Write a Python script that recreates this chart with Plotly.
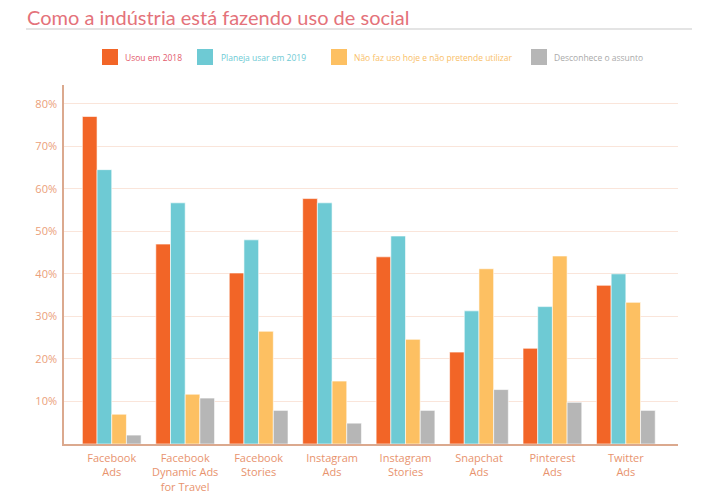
import plotly.graph_objects as go

categories = ["Facebook<br>Ads", "Facebook<br>Dynamic Ads<br>for Travel", "Facebook<br>Stories",
              "Instagram<br>Ads", "Instagram<br>Stories", "Snapchat<br>Ads", "Pinterest<br>Ads", "Twitter<br>Ads"]
series_names = ["Usou em 2018", "Planeja usar em 2019",
                "Não faz uso hoje e não pretende utilizar", "Desconhece o assunto"]
usou_2018 = [77, 47, 40.2, 57.7, 44, 21.6, 22.5, 37.3]
planeja_2019 = [64.5, 56.7, 48, 56.7, 48.9, 31.3, 32.3, 40]
nao_faz = [7, 11.7, 26.5, 14.8, 24.6, 41.2, 44.2, 33.3]
desconhece = [2.1, 10.8, 7.9, 4.9, 7.9, 12.8, 9.8, 7.9]
y_ticks = [10, 20, 30, 40, 50, 60, 70, 80]
y_tick_labels = ["10%", "20%", "30%", "40%", "50%", "60%", "70%", "80%"]

colors = ["#f26527", "#6ecad4", "#fdc062", "#b6b6b6"]
text_colors = ["#e35a6c", "#6ecad4", "#f9c068", "#aaaaaa"]

W, H = 720, 493
L, R, T, B = 64, 42, 85, 49

fig = go.Figure()
for name, vals, c in zip(series_names, [usou_2018, planeja_2019, nao_faz, desconhece], colors):
    fig.add_trace(go.Bar(x=list(range(len(categories))), y=vals, name=name,
                         marker=dict(color=c, line=dict(color="white", width=0.6)),
                         showlegend=False))

fig.update_layout(
    width=W, height=H,
    margin=dict(l=L, r=R, t=T, b=B),
    plot_bgcolor="white", paper_bgcolor="white",
    barmode="group", bargap=0.2, bargroupgap=0,
    font=dict(family="Open Sans", color="#e8936e"),
    xaxis=dict(tickmode="array", tickvals=list(range(len(categories))), ticktext=categories,
               range=[-0.65, 7.71], showgrid=False, showline=True, linecolor="#dba98e",
               linewidth=1.5, ticks="", automargin=False, ticklabelstandoff=3,
               tickfont=dict(size=11, color="#e8936e")),
    yaxis=dict(range=[0, 84.4], tickvals=y_ticks, ticktext=y_tick_labels,
               showgrid=True, gridcolor="#fae5da", gridwidth=1, zeroline=False,
               showline=True, linecolor="#dba98e", linewidth=1.5, ticks="", automargin=False,
               ticklabelstandoff=3, tickfont=dict(size=11, color="#eba07a")),
)

# Title and underline
fig.add_annotation(xref="paper", yref="paper", x=(25 - L) / (W - L - R), y=1 + (T - 17) / (H - T - B),
                   text="Como a indústria está fazendo uso de social", showarrow=False,
                   xanchor="left", yanchor="middle",
                   font=dict(family="Lato", size=20, color="#e4727a"))
fig.add_shape(type="line", xref="paper", yref="paper",
              x0=(26 - L) / (W - L - R), x1=(692 - L) / (W - L - R),
              y0=1 + (T - 29) / (H - T - B), y1=1 + (T - 29) / (H - T - B),
              line=dict(color="#c9c9c9", width=1))

# Manual legend
sq_x = [102, 197, 331, 531]
txt_x = [123, 219, 352, 552]
for i in range(4):
    x0 = (sq_x[i] - L) / (W - L - R)
    x1 = (sq_x[i] + 16 - L) / (W - L - R)
    y0 = 1 + (T - 65) / (H - T - B)
    y1 = 1 + (T - 49) / (H - T - B)
    fig.add_shape(type="rect", xref="paper", yref="paper", x0=x0, x1=x1, y0=y0, y1=y1,
                  fillcolor=colors[i], line=dict(width=0))
    fig.add_annotation(xref="paper", yref="paper", x=(txt_x[i] - L) / (W - L - R),
                       y=1 + (T - 57) / (H - T - B), text=series_names[i], showarrow=False,
                       xanchor="left", yanchor="middle",
                       font=dict(family="Open Sans", size=8.5, color=text_colors[i]))

fig.write_html("out.html")
